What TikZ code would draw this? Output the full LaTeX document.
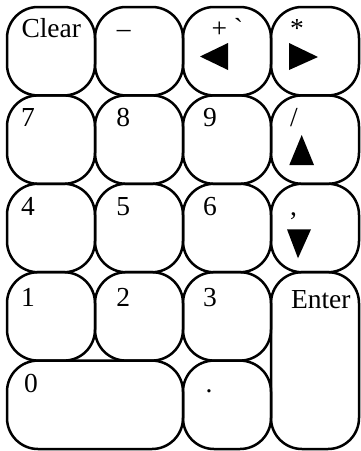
\documentclass[tikz,border=0pt]{standalone}
\usepackage{fontspec}
\setmainfont{Liberation Serif}
\begin{document}
\begin{tikzpicture}[x=1pt,y=-1pt,
  keybox/.style={draw=black,line width=2.5pt,rounded corners=31pt},
  lbl/.style={anchor=base west,inner sep=0pt,outer sep=0pt,font=\fontsize{27.5}{30}\selectfont},
  tri/.style={fill=black,draw=none}]
\useasboundingbox (0,0) rectangle (361,451);
\fill[white] (0,0) rectangle (361,451);
% keys
\draw[keybox] (7,7) rectangle (95,95.4);
\draw[keybox] (95,7) rectangle (183,95.4);
\draw[keybox] (183,7) rectangle (271,95.4);
\draw[keybox] (271,7) rectangle (359,95.4);
\draw[keybox] (7,95.4) rectangle (95,183.8);
\draw[keybox] (95,95.4) rectangle (183,183.8);
\draw[keybox] (183,95.4) rectangle (271,183.8);
\draw[keybox] (271,95.4) rectangle (359,183.8);
\draw[keybox] (7,183.8) rectangle (95,272.2);
\draw[keybox] (95,183.8) rectangle (183,272.2);
\draw[keybox] (183,183.8) rectangle (271,272.2);
\draw[keybox] (271,183.8) rectangle (359,272.2);
\draw[keybox] (7,272.2) rectangle (95,360.6);
\draw[keybox] (95,272.2) rectangle (183,360.6);
\draw[keybox] (183,272.2) rectangle (271,360.6);
\draw[keybox] (271,272.2) rectangle (359,449);
\draw[keybox] (7,360.6) rectangle (183,449);
\draw[keybox] (183,360.6) rectangle (271,449);
% labels
\node[lbl] (clear) at (21.5,37) {Clear};
\node[lbl] (minus) at (117,37) {–};
\node[lbl] (plus) at (211.5,37) {+ \textasciigrave};
\node[lbl] (star) at (290,37) {*};
\node[lbl] (k7) at (21,126) {7};
\node[lbl] (k8) at (116.5,126) {8};
\node[lbl] (k9) at (203,126) {9};
\node[lbl] (slash) at (290,126) {/};
\node[lbl] (k4) at (21,215) {4};
\node[lbl] (k5) at (116.5,215) {5};
\node[lbl] (k6) at (203,215) {6};
\node[lbl] (comma) at (290,215.5) {,};
\node[lbl] (k1) at (21,306) {1};
\node[lbl] (k2) at (116.5,306) {2};
\node[lbl] (k3) at (203,306) {3};
\node[lbl] (enter) at (291,308) {Enter};
\node[lbl] (k0) at (24,392) {0};
\node[lbl] (dot) at (205.5,392) {.};
% arrows
\fill[tri] (200,56.5) -- (228,43) -- (228,70) -- cycle;
\fill[tri] (289,43) -- (318,57) -- (289,70) -- cycle;
\fill[tri] (301.7,135) -- (314,165) -- (289.3,165) -- cycle;
\fill[tri] (287,229.3) -- (311,229.3) -- (298,258.3) -- cycle;
\end{tikzpicture}
\end{document}
